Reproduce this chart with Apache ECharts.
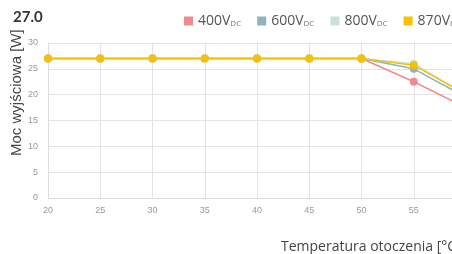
<!DOCTYPE html>
<html>
<head>
<meta charset="utf-8">
<script src="https://cdn.jsdelivr.net/npm/echarts@6/dist/echarts.min.js"></script>
<style>
  html, body { margin: 0; padding: 0; overflow: hidden; background: #fff; }
  #chart { width: 500px; height: 254px; }
</style>
</head>
<body>
<div id="chart"></div>
<script>
// temperatura otoczenia [°C]
var temps = [20, 25, 30, 35, 40, 45, 50, 55, 60];
// moc wyjściowa [W] dla napięć DC
var p400 = [27, 27, 27, 27, 27, 27, 27, 22.5, 17.5];
var p600 = [27, 27, 27, 27, 27, 27, 27, 25, 19.5];
var p800 = [27, 27, 27, 27, 27, 27, 27, 26, 20];
var p870 = [27, 27, 27, 27, 27, 27, 27, 25.7, 20];
var seriesNames = ['400', '600', '800', '870'];
var colors = ['#ef8b90', '#8fb4bc', '#c8e2da', '#f6c100'];

var myChart = echarts.init(document.getElementById('chart'));

function pairs(vals) {
    return temps.map(function (t, i) { return [t, vals[i]]; });
}

function mkSeries(name, vals, color, z) {
    return {
        name: name,
        type: 'line',
        data: pairs(vals),
        symbol: 'circle',
        symbolSize: 8,
        z: z,
        lineStyle: { color: color, width: 1.5 },
        itemStyle: { color: color }
    };
}

var option = {
    animation: false,
    color: colors,
    title: [
        {
            text: '27.0',
            left: 8,
            top: 5,
            textStyle: { fontFamily: 'Lato', fontWeight: 'bold', fontSize: 15, color: '#333' }
        },
        {
            text: 'Temperatura otoczenia [°C]',
            left: 276,
            top: 235,
            textStyle: { fontFamily: 'Open Sans', fontWeight: 'normal', fontSize: 14, color: '#444' }
        }
    ],
    graphic: [{
        type: 'text',
        x: 9,
        y: 156,
        rotation: Math.PI / 2,
        style: {
            text: 'Moc wyjściowa [W]',
            font: '15px "Liberation Sans"',
            fill: '#444',
            align: 'left',
            verticalAlign: 'top'
        }
    }],
    legend: {
        left: 179,
        top: 9,
        itemWidth: 9,
        itemHeight: 9,
        itemGap: 16,
        icon: 'rect',
        selectedMode: false,
        formatter: function (n) { return '{a|' + n + 'V}{b|DC}'; },
        textStyle: {
            rich: {
                a: { fontFamily: 'Open Sans', fontSize: 14, color: '#555' },
                b: { fontFamily: 'Open Sans', fontSize: 8, color: '#777', padding: [6, 0, 0, 0] }
            }
        },
        data: seriesNames
    },
    grid: { left: 48, right: 34, top: 43, bottom: 56 },
    xAxis: {
        type: 'value',
        min: 20,
        max: 60,
        interval: 5,
        axisLine: { lineStyle: { color: '#ddd' } },
        axisTick: { show: false },
        axisLabel: { color: '#999', fontSize: 9, margin: 8 },
        splitLine: { show: true, lineStyle: { color: '#e3e3e3' } }
    },
    yAxis: {
        type: 'value',
        min: 0,
        max: 30,
        interval: 5,
        axisLine: { show: true, lineStyle: { color: '#ddd' } },
        axisTick: { show: false },
        axisLabel: { color: '#999', fontSize: 9, margin: 10 },
        splitLine: { lineStyle: { color: '#e3e3e3' } }
    },
    series: [
        mkSeries('400', p400, colors[0], 2),
        mkSeries('600', p600, colors[1], 3),
        mkSeries('800', p800, colors[2], 4),
        mkSeries('870', p870, colors[3], 5)
    ]
};

myChart.setOption(option);
</script>
</body>
</html>
